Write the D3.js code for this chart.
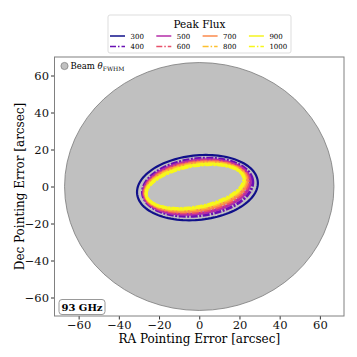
<!DOCTYPE html>
<html>
<head>
<meta charset="utf-8">
<script src="https://cdn.jsdelivr.net/npm/d3@7"></script>
<style>
	body { margin: 0; background: #fff; }
	text { font-family: "DejaVu Serif", serif; }
</style>
</head>
<body>
<div id="chart"></div>
<script>
// flux levels and fitted ellipse params (data units, arcsec / degrees)
const fluxLevels = [300, 400, 500, 600, 700, 800, 900, 1000];
const fluxColors = ["#10108a", "#6a10b4", "#b42ca8", "#e8506a", "#fb8a4c", "#fdc02e", "#f4f520", "#f8f818"];
const centerX = [-0.9, -0.8, -1.2, -1.4, -1.6, -1.8, -2.0, -2.1];
const centerY = [-0.6, -0.4, -0.3, -0.2, -0.1, 0.0, 0.0, 0.0];
const semiMajor = [30.2, 27.6, 26.8, 26.2, 25.7, 25.2, 24.8, 24.6];
const semiMinor = [17.4, 15.4, 14.3, 13.5, 12.8, 12.1, 11.4, 11.0];
const tiltDeg = [7, 8, 9, 9.5, 10, 10.5, 11, 11.5];
const beamRadius = 67;
const xTicks = [-60, -40, -20, 0, 20, 40, 60];
const yTicks = [-60, -40, -20, 0, 20, 40, 60];

const W = 357, H = 357;
const margin = {top: 57, right: 13, bottom: 41, left: 54.5};
const width = W - margin.left - margin.right;
const height = H - margin.top - margin.bottom;

const svg = d3.select("#chart")
	.append("svg")
		.attr("width", W)
		.attr("height", H);

const g = svg.append("g")
	.attr("transform", `translate(${margin.left}, ${margin.top})`);

const x = d3.scaleLinear().domain([-72, 72]).range([0, width]);
const y = d3.scaleLinear().domain([-70, 70]).range([height, 0]);

g.append("clipPath").attr("id", "clip")
	.append("rect").attr("width", width).attr("height", height);

const plot = g.append("g").attr("clip-path", "url(#clip)");

// beam circle
plot.append("ellipse")
	.attr("cx", x(0))
	.attr("cy", y(0))
	.attr("rx", x(beamRadius) - x(0))
	.attr("ry", y(0) - y(beamRadius))
	.style("fill", "#c0c0c0")
	.style("stroke", "#7a7a7a")
	.style("stroke-width", 0.8);

function ellipsePoints(i){
	const th = tiltDeg[i] * Math.PI / 180;
	return d3.range(0, 361, 3).map((deg) => {
		const t = deg * Math.PI / 180;
		const ex = semiMajor[i] * Math.cos(t), ey = semiMinor[i] * Math.sin(t);
		return [centerX[i] + ex * Math.cos(th) - ey * Math.sin(th),
			centerY[i] + ex * Math.sin(th) + ey * Math.cos(th)];
	});
}

const line = d3.line()
	.x((d) => x(d[0]))
	.y((d) => y(d[1]))
	.curve(d3.curveLinearClosed);

fluxLevels.forEach((f, i) => {
	plot.append("path")
		.attr("d", line(ellipsePoints(i)))
		.style("fill", "none")
		.style("stroke", fluxColors[i])
		.style("stroke-width", i === 0 ? 2.2 : 3)
		.style("stroke-dasharray", i % 2 === 1 ? "7,1.5,2,1.5" : null);
});

// axes
const xAxis = g.append("g")
	.attr("transform", `translate(0, ${height})`)
	.call(d3.axisBottom(x).tickValues(xTicks).tickSize(3.5).tickPadding(1.5)
		.tickFormat((d) => d < 0 ? "\u2212" + Math.abs(d) : d));
const yAxis = g.append("g")
	.call(d3.axisLeft(y).tickValues(yTicks).tickSize(3.5).tickPadding(2)
		.tickFormat((d) => d < 0 ? "\u2212" + Math.abs(d) : d));

[xAxis, yAxis].forEach((a) => {
	a.select(".domain").remove();
	a.selectAll("line").style("stroke", "#333");
	a.selectAll("text")
		.style("font-family", "DejaVu Serif")
		.style("font-size", "11.5px")
		.style("fill", "#111");
});

g.append("rect")
	.attr("width", width)
	.attr("height", height)
	.style("fill", "none")
	.style("stroke", "#808080")
	.style("stroke-width", 1);

// axis labels
svg.append("text")
	.attr("x", margin.left + width / 2)
	.attr("y", 342.5)
	.attr("text-anchor", "middle")
	.style("font-size", "12px")
	.text("RA Pointing Error [arcsec]");

svg.append("text")
	.attr("transform", `translate(24, ${margin.top + height / 2}) rotate(-90)`)
	.attr("text-anchor", "middle")
	.style("font-size", "12px")
	.text("Dec Pointing Error [arcsec]");

// beam legend
g.append("circle")
	.attr("cx", 10)
	.attr("cy", 9)
	.attr("r", 3.6)
	.style("fill", "#c0c0c0")
	.style("stroke", "#777")
	.style("stroke-width", 0.7);
const beamText = g.append("text")
	.attr("x", 16)
	.attr("y", 12)
	.style("font-size", "8.5px");
beamText.append("tspan").text("Beam ");
beamText.append("tspan").style("font-style", "italic").text("\u03b8");
beamText.append("tspan").attr("dy", 2).style("font-size", "6px").text("FWHM");

// frequency tag
g.append("rect")
	.attr("x", 4.5)
	.attr("y", height - 16.5)
	.attr("width", 46)
	.attr("height", 15)
	.attr("rx", 3)
	.style("fill", "#fff")
	.style("stroke", "#999")
	.style("stroke-width", 1);
g.append("text")
	.attr("x", 27.5)
	.attr("y", height - 5.5)
	.attr("text-anchor", "middle")
	.style("font-size", "10px")
	.style("font-weight", "bold")
	.text("93 GHz");

// peak flux legend
const legend = svg.append("g").attr("transform", "translate(108, 15)");
legend.append("rect")
	.attr("width", 183)
	.attr("height", 38)
	.attr("rx", 2)
	.style("fill", "#fff")
	.style("stroke", "#ddd")
	.style("stroke-width", 1);
legend.append("text")
	.attr("x", 91.5)
	.attr("y", 12.5)
	.attr("text-anchor", "middle")
	.style("font-size", "10.5px")
	.text("Peak Flux");

fluxLevels.forEach((f, i) => {
	const col = Math.floor(i / 2), row = i % 2;
	const lx = 2 + col * 46.3, ly = 21 + row * 10.5;
	legend.append("line")
		.attr("x1", lx)
		.attr("x2", lx + 15)
		.attr("y1", ly)
		.attr("y2", ly)
		.style("stroke", fluxColors[i])
		.style("stroke-width", 1.5)
		.style("stroke-dasharray", row === 1 ? "6,2,1.5,2" : null);
	legend.append("text")
		.attr("x", lx + 20.5)
		.attr("y", ly + 2.6)
		.style("font-size", "7px")
		.text(f);
});
</script>
</body>
</html>
